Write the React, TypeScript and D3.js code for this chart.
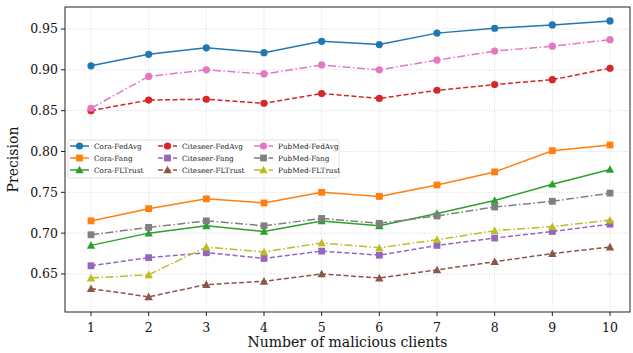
import React from 'react';
import * as d3 from 'd3';

// x positions (number of malicious clients)
const clients = [1, 2, 3, 4, 5, 6, 7, 8, 9, 10];
const yTicks = [0.65, 0.7, 0.75, 0.8, 0.85, 0.9, 0.95];

const coraFedAvg = [0.905, 0.919, 0.927, 0.921, 0.935, 0.931, 0.945, 0.951, 0.955, 0.96];
const coraFang = [0.715, 0.73, 0.742, 0.737, 0.75, 0.745, 0.759, 0.775, 0.801, 0.808];
const coraFLTrust = [0.685, 0.7, 0.709, 0.702, 0.715, 0.709, 0.724, 0.74, 0.76, 0.778];
const citeseerFedAvg = [0.85, 0.863, 0.864, 0.859, 0.871, 0.865, 0.875, 0.882, 0.888, 0.902];
const citeseerFang = [0.66, 0.67, 0.676, 0.669, 0.678, 0.673, 0.685, 0.694, 0.702, 0.711];
const citeseerFLTrust = [0.632, 0.622, 0.637, 0.641, 0.65, 0.645, 0.655, 0.665, 0.675, 0.683];
const pubmedFedAvg = [0.853, 0.892, 0.9, 0.895, 0.906, 0.9, 0.912, 0.923, 0.929, 0.937];
const pubmedFang = [0.698, 0.707, 0.715, 0.709, 0.718, 0.712, 0.721, 0.732, 0.739, 0.749];
const pubmedFLTrust = [0.645, 0.649, 0.683, 0.677, 0.688, 0.682, 0.692, 0.703, 0.708, 0.716];

type Marker = 'circle' | 'square' | 'triangle';

// legend order is column by column
const series: { name: string; values: number[]; color: string; dash: string; marker: Marker }[] = [
  { name: 'Cora-FedAvg', values: coraFedAvg, color: '#1f77b4', dash: '', marker: 'circle' },
  { name: 'Cora-Fang', values: coraFang, color: '#ff7f0e', dash: '', marker: 'square' },
  { name: 'Cora-FLTrust', values: coraFLTrust, color: '#2ca02c', dash: '', marker: 'triangle' },
  { name: 'Citeseer-FedAvg', values: citeseerFedAvg, color: '#d62728', dash: '5,2.5', marker: 'circle' },
  { name: 'Citeseer-Fang', values: citeseerFang, color: '#9467bd', dash: '5,2.5', marker: 'square' },
  { name: 'Citeseer-FLTrust', values: citeseerFLTrust, color: '#8c564b', dash: '5,2.5', marker: 'triangle' },
  { name: 'PubMed-FedAvg', values: pubmedFedAvg, color: '#e377c2', dash: '8,2.5,1.5,2.5', marker: 'circle' },
  { name: 'PubMed-Fang', values: pubmedFang, color: '#7f7f7f', dash: '8,2.5,1.5,2.5', marker: 'square' },
  { name: 'PubMed-FLTrust', values: pubmedFLTrust, color: '#bcbd22', dash: '8,2.5,1.5,2.5', marker: 'triangle' },
];

const W = 633;
const H = 353;
const plot = { left: 65, right: 630, top: 7, bottom: 312 };
const font = '"DejaVu Serif", Georgia, serif';

const MarkerShape = ({ type, x, y, color }: { type: Marker; x: number; y: number; color: string }) => {
  if (type === 'circle') return <circle cx={x} cy={y} r={3.6} fill={color} />;
  if (type === 'square') return <rect x={x - 3.4} y={y - 3.4} width={6.8} height={6.8} fill={color} />;
  const s = 4.2;
  return <path d={`M${x},${y - s} L${x + s},${y + s * 0.8} L${x - s},${y + s * 0.8} Z`} fill={color} />;
};

const App = () => {
  const x = d3.scaleLinear().domain([1, 10]).range([91, 610]);
  const y = d3.scaleLinear().domain([0.6034, 0.977]).range([plot.bottom, plot.top]);

  const line = d3.line<number>()
    .x((_, i) => x(clients[i]))
    .y(d => y(d));

  const legend = { x: 68, y: 140, w: 271, h: 38 };
  const colX = [70, 158, 254];
  const rowY = [146, 158, 170];

  return (
    <svg width={W} height={H} style={{ position: 'absolute', left: 0, top: 0 }}>
      <rect width={W} height={H} fill="#fff" />

      {/* grid */}
      {clients.map(c => (
        <line key={'gx' + c} x1={x(c)} x2={x(c)} y1={plot.top} y2={plot.bottom}
          stroke="#cfcfcf" strokeWidth={0.8} strokeDasharray="1,1.6" />
      ))}
      {yTicks.map(t => (
        <line key={'gy' + t} x1={plot.left} x2={plot.right} y1={y(t)} y2={y(t)}
          stroke="#cfcfcf" strokeWidth={0.8} strokeDasharray="1,1.6" />
      ))}

      {/* series */}
      {series.map(s => (
        <g key={s.name}>
          <path d={line(s.values) ?? ''} fill="none" stroke={s.color} strokeWidth={1.5} strokeDasharray={s.dash || undefined} />
          {s.values.map((v, i) => (
            <MarkerShape key={i} type={s.marker} x={x(clients[i])} y={y(v)} color={s.color} />
          ))}
        </g>
      ))}

      {/* frame */}
      <rect x={plot.left} y={plot.top} width={plot.right - plot.left} height={plot.bottom - plot.top}
        fill="none" stroke="#222" strokeWidth={1} />

      {/* x axis */}
      {clients.map(c => (
        <g key={'tx' + c} transform={`translate(${x(c)},${plot.bottom})`}>
          <line y2={4} stroke="#222" />
          <text y={20} textAnchor="middle" fontFamily={font} fontSize={12.5} fill="#111">{c}</text>
        </g>
      ))}
      <text x={(plot.left + plot.right) / 2} y={347} textAnchor="middle" fontFamily={font} fontSize={14} fill="#111">
        Number of malicious clients
      </text>

      {/* y axis */}
      {yTicks.map(t => (
        <g key={'ty' + t} transform={`translate(${plot.left},${y(t)})`}>
          <line x2={-4} stroke="#222" />
          <text x={-7} dy="0.35em" textAnchor="end" fontFamily={font} fontSize={12.5} fill="#111">{t.toFixed(2)}</text>
        </g>
      ))}
      <text transform={`translate(18,${(plot.top + plot.bottom) / 2}) rotate(-90)`} textAnchor="middle"
        fontFamily={font} fontSize={14} fill="#111">Precision</text>

      {/* legend */}
      <rect x={legend.x} y={legend.y} width={legend.w} height={legend.h} rx={2}
        fill="#fff" fillOpacity={0.85} stroke="#d8d8d8" strokeWidth={0.8} />
      {series.map((s, i) => {
        const cx = colX[Math.floor(i / 3)];
        const cy = rowY[i % 3];
        return (
          <g key={'lg' + s.name}>
            <line x1={cx} x2={cx + 19} y1={cy} y2={cy} stroke={s.color} strokeWidth={1.5} strokeDasharray={s.dash || undefined} />
            <MarkerShape type={s.marker} x={cx + 9.5} y={cy} color={s.color} />
            <text x={cx + 24} y={cy} dy="0.35em" fontFamily={font} fontSize={7.3} fill="#222">{s.name}</text>
          </g>
        );
      })}
    </svg>
  );
};

export default App;
